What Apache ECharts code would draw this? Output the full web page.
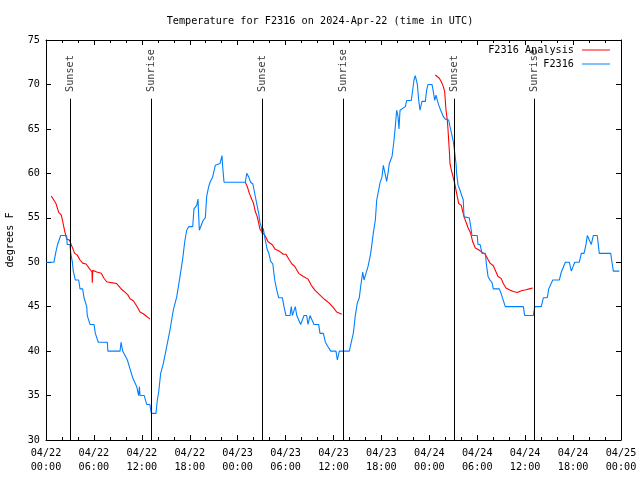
<!DOCTYPE html>
<html>
<head>
<meta charset="utf-8">
<script src="https://cdn.jsdelivr.net/npm/echarts@6/dist/echarts.min.js"></script>
<style>html,body{margin:0;padding:0;background:#fff}#c{width:640px;height:480px}</style>
</head>
<body>
<div id="c"></div>
<script>
// hours since 2024-04-22 00:00 UTC
const xTickLabels = ['04/22\n00:00','04/22\n06:00','04/22\n12:00','04/22\n18:00','04/23\n00:00','04/23\n06:00','04/23\n12:00','04/23\n18:00','04/24\n00:00','04/24\n06:00','04/24\n12:00','04/24\n18:00','04/25\n00:00'];
const sunLabels = ['Sunset','Sunrise','Sunset','Sunrise','Sunset','Sunrise'];
const sunHours = [3.05, 13.19, 27.08, 37.23, 51.13, 61.14];

const stationObs = [
[0.0,50],[1.0,50],[1.2,51],[1.45,52],[1.84,53],[2.59,53],[2.65,52],[3.0,52],[3.1,51],[3.3,50],[3.42,49],[3.67,48],[4.09,48],[4.26,47],[4.59,47],[4.76,46],[5.0,46],[5.1,45],[5.17,44],[5.51,43],[6.01,43],[6.18,42],[6.55,41],[7.68,41],[7.75,40],[9.27,40],[9.4,41],[9.52,41],[9.6,40],[9.77,40],[10.19,39],[10.52,38],[10.86,37],[11.36,36],[11.6,35],[11.7,36],[11.77,35],[12.3,35],[12.61,34],[13.0,34],[13.19,33],[13.77,33],
[13.94,34.5],[14.11,35.4],[14.36,37.5],[14.69,38.6],[15.11,40.5],[15.53,42.4],[15.94,44.6],[16.37,46.1],[16.78,48.4],[17.12,50.4],[17.37,52.3],[17.62,53.6],[17.87,54],[18.37,54],[18.53,56],[18.87,56.4],[19.03,57.1],[19.1,57],[19.2,53.6],[19.45,53.6],[19.7,54.75],[19.95,55],[20.12,57.4],[20.37,58.5],[20.54,59],[20.87,59.6],[21.2,60.9],[21.79,61.1],[22.04,62],[22.1,61],[22.29,59],[24.96,59],[25.13,60],[25.38,59.6],[25.63,59],[25.9,58.8],[26.3,57],[26.46,56.25],[26.63,55.5],[26.8,54.4],[26.96,54],
[27.05,53.25],[27.2,53.8],[27.46,52.5],[27.71,51.4],[27.9,51],[28.14,50.1],[28.4,49.8],[28.64,48],[28.89,46.9],[29.14,46],[29.6,46],[29.8,45],[30.05,44],[30.55,44],[30.72,45],[30.85,44],[31.1,44],[31.22,45],[31.4,44],[31.89,43],[32.1,43],[32.31,44],[32.64,44],[32.81,43],[33.06,44],[33.31,44],[33.56,43],[34.14,43],[34.31,42],[34.73,42],[34.98,41],[35.31,40.5],[35.65,40],[36.31,40],[36.48,39],[36.73,40],[37.98,40],
[38.23,41],[38.48,42],[38.73,44],[38.98,45.4],[39.23,46],[39.4,47.25],[39.66,48.9],[39.82,48],[39.98,48.5],[40.32,49.5],[40.66,51],[40.98,53.25],[41.24,54.75],[41.41,57],[41.66,57.2],[41.82,58.9],[42.07,59.6],[42.24,60.9],[42.49,60.9],[42.66,59.1],[42.82,60],[42.99,61.1],[43.33,61.9],[43.58,63.75],[43.74,65.25],[43.91,67.1],[44.08,66.4],[44.2,65],[44.33,67.1],[44.58,67.1],[44.99,67.5],[45.17,68.2],[45.74,68.2],[45.92,69.4],[46.08,70.5],[46.24,71],[46.42,71],[46.5,70],[46.67,68.2],[46.83,67.1],[47.08,68.1],[47.5,68.1],[47.67,69.4],[47.83,70],[48.33,70],[48.5,69.2],[48.67,68.2],[48.84,68.8],[49.0,68.2],[49.17,67.7],[49.42,67.1],[49.59,67],[49.75,66.4],[50.0,66.1],[50.42,66],[50.59,65.25],[50.84,65.1],[51.0,63.6],[51.17,62.4],[51.34,61.1],[51.42,60],[51.59,58.7],[51.84,58.1],[52.09,58],[52.25,57],[52.34,55.1],[53.0,55],[53.18,54],[53.34,53],[54.0,53],[54.09,52],[54.35,52],[54.6,51],[55.01,51],[55.18,49.5],[55.35,48.4],[55.6,48],[55.85,47.7],[56.01,47],[56.76,47],[56.94,46.6],[57.19,45.9],[57.51,45],[59.77,45],[59.94,44],[61.02,44],
[61.2,45],[62.02,45],[62.27,46],[62.77,46],[62.95,47],[63.45,48],[64.28,48],[64.53,48.9],[64.78,49],[65.03,50],[65.53,50],[65.78,49],[66.03,49],[66.2,50],[66.78,50],[67.03,51],[67.37,51],[67.62,52],[67.78,53],[68.03,53],[68.28,52],[68.53,53],[69.03,53],[69.28,51],[70.71,51],[70.87,50],[71.04,49],[71.79,49]
];

const analysisNight1 = [
[0.66,57.45],[0.9,57.4],[1.25,56.6],[1.59,55.6],[1.92,55.3],[2.09,54.6],[2.34,53.5],[2.59,52.6],[2.92,52.5],[3.26,51.75],[3.59,51.0],[3.92,50.8],[4.26,50.25],[4.59,49.9],[5.01,49.8],[5.42,49.3],[5.76,48.9],[5.8,47.7],[5.85,49.1],[5.92,49.1],[6.35,48.9],[6.92,48.75],[7.26,48.2],[7.6,47.8],[8.18,47.7],[8.85,47.6],[9.1,47.4],[9.52,46.9],[9.93,46.6],[10.27,46.3],[10.52,45.9],[10.93,45.67],[11.36,45.07],[11.77,44.4],[12.18,44.2],[12.61,43.9],[13.02,43.6]
];
const analysisNight2 = [
[24.96,59],[25.21,58.5],[25.46,57.75],[25.8,57],[25.96,56.7],[26.21,55.7],[26.46,55.1],[26.63,54.4],[26.8,53.7],[27.05,53.6],[27.46,52.95],[27.8,52.3],[28.3,52.0],[28.71,51.45],[29.3,51.2],[29.71,50.9],[30.05,50.9],[30.47,50.25],[30.8,49.8],[31.14,49.55],[31.64,48.75],[32.22,48.4],[32.81,48.1],[33.22,47.4],[33.72,46.8],[34.31,46.3],[34.9,45.8],[35.47,45.4],[35.98,44.9],[36.4,44.4],[36.65,44.2],[37.03,44.15]
];
const analysisNight3 = [
[48.75,71.06],[49.0,71.0],[49.25,70.7],[49.5,70.3],[49.75,69.75],[49.92,69.2],[50.09,67.1],[50.25,66.0],[50.34,64.9],[50.5,62.6],[50.59,61.1],[50.75,60.4],[51.0,60.2],[51.17,58.9],[51.42,57.75],[51.68,56.6],[52.0,56.4],[52.18,55.7],[52.43,54.9],[52.68,54.3],[52.84,53.9],[53.18,53.25],[53.43,52.3],[53.76,51.6],[54.18,51.4],[54.6,51.1],[55.01,50.9],[55.35,50.3],[55.6,49.9],[56.01,49.6],[56.26,49.1],[56.6,48.4],[57.01,48.15],[57.26,47.6],[57.6,47.1],[58.01,46.9],[58.51,46.7],[59.02,46.6],[59.52,46.8],[60.1,46.9],[60.52,47.0],[60.95,47.1]
];

const FONT = 'DejaVu Sans Mono';
const FS = 10.2;
const analysisData = analysisNight1.concat([[null,null]], analysisNight2, [[null,null]], analysisNight3);
const lineTop = 68.4, labelBase = 69.15, yMin = 30;

const chart = echarts.init(document.getElementById('c'), null, {renderer:'canvas'});
const axisCommon = {
  axisLine: {show:true, onZero:false, lineStyle:{color:'#000', width:1}},
  axisTick: {show:true, inside:true, length:5, lineStyle:{color:'#000'}},
  splitLine: {show:false}
};
chart.setOption({
  animation: false,
  backgroundColor: '#fff',
  title: {text:'Temperature for F2316 on 2024-Apr-22 (time in UTC)', left:'center', top:11,
    textStyle:{fontFamily:FONT, fontSize:FS, fontWeight:'normal', color:'#000'}},
  legend: {orient:'vertical', right:30, top:43, padding:0, itemGap:0, align:'right',
    itemWidth:28, itemHeight:1, icon:'rect',
    textStyle:{fontFamily:FONT, fontSize:FS, color:'#000', lineHeight:14, padding:[0,3,0,0]},
    data:['F2316 Analysis','F2316']},
  grid: {left:46, right:19, top:40, bottom:40, containLabel:false, outerBoundsMode:'none'},
  xAxis: [
    Object.assign({type:'value', min:0, max:72, interval:6, position:'bottom',
      minorTick:{show:true, splitNumber:3, length:3, lineStyle:{color:'#000'}},
      axisLabel:{fontFamily:FONT, fontSize:FS, color:'#000', lineHeight:14, margin:6,
        formatter: v => xTickLabels[Math.round(v/6)]}}, axisCommon),
    Object.assign({type:'value', min:0, max:72, interval:6, position:'top',
      minorTick:{show:true, splitNumber:3, length:3, lineStyle:{color:'#000'}},
      axisLabel:{show:false}}, axisCommon)
  ],
  yAxis: [
    Object.assign({type:'value', min:30, max:75, interval:5, position:'left',
      name:'degrees F', nameLocation:'middle', nameRotate:90, nameGap:31,
      nameTextStyle:{fontFamily:FONT, fontSize:FS, color:'#000'},
      axisLabel:{fontFamily:FONT, fontSize:FS, color:'#000', margin:6}}, axisCommon),
    Object.assign({type:'value', min:30, max:75, interval:5, position:'right',
      axisLabel:{show:false}}, axisCommon)
  ],
  series: [
    {name:'F2316 Analysis', type:'line', data:analysisData, showSymbol:false, connectNulls:false,
      lineStyle:{color:'#ff0000', width:1.1}, itemStyle:{color:'#ff0000'}, z:3},
    {name:'F2316', type:'line', data:stationObs, showSymbol:false,
      lineStyle:{color:'#0080ff', width:1.1}, itemStyle:{color:'#0080ff'}, z:4},
    {name:'sun', type:'scatter', data:sunHours.map((h,i)=>[h,labelBase,sunLabels[i]]),
      symbolSize:0, silent:true, z:5,
      label:{show:true, position:[0,0], rotate:90, align:'left', verticalAlign:'middle',
        fontFamily:FONT, fontSize:FS, color:'#000', formatter: p => p.data[2]},
      markLine:{silent:true, symbol:['none','none'], label:{show:false},
        lineStyle:{color:'#000', width:1, type:'solid'},
        data: sunHours.map(h => [{coord:[h,yMin]},{coord:[h,lineTop]}])}
    }
  ]
});
</script>
</body>
</html>
